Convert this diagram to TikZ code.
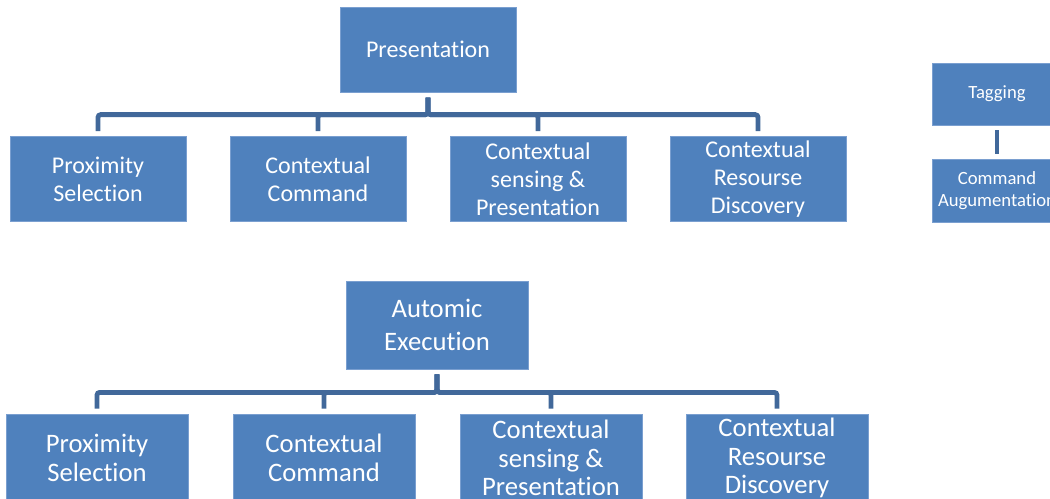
\documentclass[tikz,border=0pt]{standalone}
\usepackage{fontspec}
\setmainfont{Carlito}[Ligatures=NoCommon]
\definecolor{box_fill}{RGB}{79, 129, 189}
\definecolor{box_edge}{RGB}{122, 159, 208}
\definecolor{conn_blue}{RGB}{65, 104, 154}
\usetikzlibrary{positioning}

\begin{document}
\begin{tikzpicture}[x=0.75pt, y=-0.75pt,
        blk/.style={rectangle, draw=box_edge, line width=0.6pt, fill=box_fill,
                    text=white, inner sep=0pt, align=center,
                    minimum width=132pt, minimum height=63.75pt,
                    font=\fontsize{18}{21}\selectfont},
        bigblk/.style={blk, minimum width=136.5pt, minimum height=66pt,
                    font=\fontsize{20}{21.5}\selectfont},
        smallblk/.style={blk, minimum width=97.5pt, minimum height=46.5pt,
                    font=\fontsize{14}{17}\selectfont},
        conn/.style={draw=conn_blue, line width=3.6pt, rounded corners=2pt,
                    shorten <=3.75pt, shorten >=3.75pt},
      ]
        \useasboundingbox (0,0) rectangle (1050,499);

        % Presentation tree
        \node[blk] (pres) at (428,49.75) {Presentation};
        \node[blk] (p1) at (98,179)  {Proximity\\Selection};
        \node[blk] (p2) at (318,179) {Contextual\\Command};
        \node[blk] (p3) at (538,179) {Contextual\\sensing \&\\Presentation};
        \node[blk] (p4) at (758,179) {Contextual\\Resourse\\Discovery};

        \draw[conn] (pres.south) -- ++(0,22) -| (p1.north);
        \draw[conn] (pres.south) -- ++(0,22) -| (p2.north);
        \draw[conn] (pres.south) -- ++(0,22) -| (p3.north);
        \draw[conn] (pres.south) -- ++(0,22) -| (p4.north);

        % Tagging
        \node[smallblk] (tag) at (997,94) {Tagging};
        \node[smallblk, minimum height=47.25pt] (aug) at (997,190.5)
          {Command\\Augumentation};
        \draw[conn] (tag) -- (aug);

        % Automic Execution tree
        \node[bigblk, font=\fontsize{20}{24.75}\selectfont] (auto) at (437,325)
          {Automic\\Execution};
        \node[bigblk] (a1) at (97,458)  {Proximity\\Selection};
        \node[bigblk] (a2) at (324,458) {Contextual\\Command};
        \node[bigblk] (a3) at (551,458) {Contextual\\sensing \&\\Presentation};
        \node[bigblk] (a4) at (777,458) {Contextual\\Resourse\\Discovery};

        \draw[conn] (auto.south) -- ++(0,23) -| (a1.north);
        \draw[conn] (auto.south) -- ++(0,23) -| (a2.north);
        \draw[conn] (auto.south) -- ++(0,23) -| (a3.north);
        \draw[conn] (auto.south) -- ++(0,23) -| (a4.north);
      \end{tikzpicture}
\end{document}
